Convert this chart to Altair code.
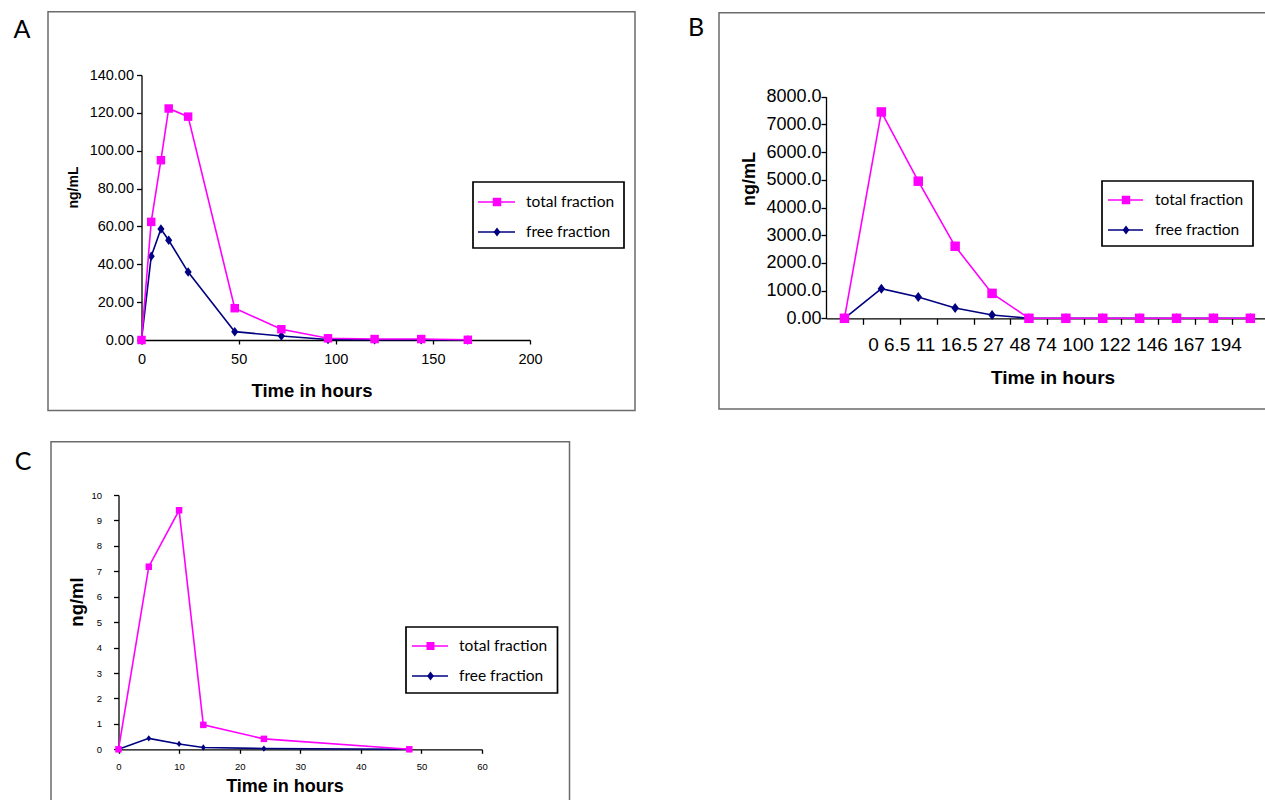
import altair as alt
import pandas as pd

MAGENTA = "#FF00FF"
NAVY = "#000080"
ARIAL = "Liberation Sans"
SANS = "Lato"
# diamond taller than wide, in the [-1, 1] box Vega uses for custom symbols
DIAMOND = "M0,-1L0.75,0L0,1L-0.75,0Z"

SERIES_NAMES = ["total fraction", "free fraction"]

# ---- A: concentration over time (ng/mL) ----
a_hours = [0, 5, 10, 14, 24, 48, 72, 96, 120, 144, 168]
a_total = [0.0, 62.4, 95.0, 122.3, 118.0, 16.8, 5.7, 0.9, 0.5, 0.5, 0.1]
a_free = [0.0, 44.2, 58.6, 52.7, 35.9, 4.4, 2.1, 0.3, 0.1, 0.1, 0.0]

# ---- B: concentration at sampling times (ng/mL) ----
b_hours = ["0", "6.5", "11", "16.5", "27", "48", "74", "100", "122", "146", "167", "194"]
b_total = [0, 7450, 4950, 2600, 900, 0, 0, 0, 0, 0, 0, 0]
b_free = [0, 1070, 770, 370, 120, 0, 0, 0, 0, 0, 0, 0]

# ---- C: concentration over time (ng/ml) ----
c_hours = [0, 5, 10, 14, 24, 48]
c_total = [0.0, 7.18, 9.4, 0.96, 0.41, 0.0]
c_free = [0.0, 0.43, 0.21, 0.07, 0.03, 0.0]

ONE = alt.Data(values=[{}])
W, H = 1265, 800


def long_frame(x, total, free):
    return pd.DataFrame({
        "t": list(x) * 2,
        "v": list(total) + list(free),
        "series": [SERIES_NAMES[0]] * len(total) + [SERIES_NAMES[1]] * len(free),
    })


def text(s, x, y, size, font=ARIAL, weight="normal", angle=0, align="center"):
    return alt.Chart(ONE).mark_text(
        text=s, fontSize=size, font=font, fontWeight=weight, angle=angle,
        align=align, baseline="middle", color="black",
    ).encode(x=alt.value(x), y=alt.value(y))


def box(x0, y0, x1, y1, color, width):
    return alt.Chart(ONE).mark_rect(fillOpacity=0, stroke=color, strokeWidth=width).encode(
        x=alt.value(x0), x2=alt.value(x1), y=alt.value(y0), y2=alt.value(y1)
    )


def series(df, x, y, sq_size, dia_size, line_w):
    layers = []
    styles = {
        SERIES_NAMES[1]: (NAVY, DIAMOND, dia_size),
        SERIES_NAMES[0]: (MAGENTA, "square", sq_size),
    }
    for name in [SERIES_NAMES[1], SERIES_NAMES[0]]:
        color, shape, size = styles[name]
        base = alt.Chart(df).transform_filter(alt.datum.series == name).encode(x=x, y=y)
        layers.append(base.mark_line(color=color, strokeWidth=line_w))
        layers.append(base.mark_point(shape=shape, size=size, filled=True, color=color, opacity=1))
    return layers


def legend(x0, y0, x1, y1, rows_y, lx0, lx1, mx, tx, sq_size, dia_size, fs):
    parts = [box(x0, y0, x1, y1, "black", 1.7)]
    marks = [(MAGENTA, "square", sq_size), (NAVY, DIAMOND, dia_size)]
    for name, (color, shape, size), yy in zip(SERIES_NAMES, marks, rows_y):
        parts.append(alt.Chart(ONE).mark_rule(color=color, strokeWidth=1.6).encode(
            x=alt.value(lx0), x2=alt.value(lx1), y=alt.value(yy)))
        parts.append(alt.Chart(ONE).mark_point(shape=shape, size=size, filled=True, color=color, opacity=1).encode(
            x=alt.value(mx), y=alt.value(yy)))
        parts.append(text(name, tx, yy, fs, font=SANS, align="left"))
    return parts


def axis(orient, offset, values, size, pad, tick, **kw):
    return alt.Axis(
        orient=orient, offset=offset, values=values, title=None, grid=False,
        labelFont=ARIAL, labelFontSize=size, labelColor="black", labelPadding=pad,
        labelFlush=False, labelOverlap=False,
        domainColor="black", domainWidth=1.3, tickColor="black", tickSize=tick, tickWidth=1.3,
        **kw,
    )


# ---------- panel A ----------
a_x0, a_y0 = 141.5, 340
ax = alt.X("t:Q", scale=alt.Scale(domain=[0, 200], range=[a_x0, 530], nice=False, zero=False),
           axis=axis("bottom", a_y0 - H, [0, 50, 100, 150, 200], 14.5, 8, 4, format="d"))
ay = alt.Y("v:Q", scale=alt.Scale(domain=[0, 140], range=[a_y0, 75], nice=False),
           axis=axis("left", -a_x0, list(range(0, 141, 20)), 14.5, 3, 5, format=".2f"))
panel_a = alt.layer(
    box(48, 11.7, 635, 410.5, "#6b6b6b", 1.5),
    text("A", 22, 29.5, 25, font=SANS),
    *series(long_frame(a_hours, a_total, a_free), ax, ay, 72, 90, 1.6),
    text("Time in hours", 312, 391, 18.5, weight="bold"),
    text("ng/mL", 73.5, 187.5, 14, weight="bold", angle=270),
    *legend(473, 182, 624, 248, [202, 232], 478, 515, 497, 526, 72, 81, 15.5),
)

# ---------- panel B ----------
b_x0, b_y0 = 826, 318.3
b_step = 36.9
b_df = long_frame(range(len(b_hours)), b_total, b_free)
bx = alt.X("t:Q", scale=alt.Scale(domain=[-0.5, len(b_hours) - 0.5],
                                  range=[b_x0, b_x0 + b_step * len(b_hours)], nice=False, zero=False),
           axis=axis("bottom", b_y0 - H, [i + 0.5 for i in range(len(b_hours) - 1)], 18, 4, 6, labels=False))
by = alt.Y("v:Q", scale=alt.Scale(domain=[0, 8000], range=[b_y0, 96.7], nice=False),
           axis=axis("left", -b_x0, list(range(0, 8001, 1000)), 18, 0, 5,
                     labelExpr="datum.value == 0 ? '0.00' : format(datum.value, '.1f')"))
panel_b = alt.layer(
    box(719, 12.7, 1290, 409, "#6b6b6b", 1.5),
    text("B", 696, 28, 25, font=SANS),
    *series(b_df, bx, by, 90, 100, 1.6),
    text(" ".join(b_hours), 1055, 345, 19),
    text("Time in hours", 1053, 377.5, 19, weight="bold"),
    text("ng/mL", 750, 179, 18, weight="bold", angle=270),
    *legend(1102, 181, 1253, 246, [200, 230], 1108, 1143, 1126, 1155, 72, 81, 15.5),
)

# ---------- panel C ----------
c_x0, c_y0 = 118.5, 749.3
cx = alt.X("t:Q", scale=alt.Scale(domain=[0, 60], range=[c_x0, 482], nice=False, zero=False),
           axis=axis("bottom", c_y0 - H, list(range(0, 61, 10)), 9.5, 8, 4, format="d"))
cy = alt.Y("v:Q", scale=alt.Scale(domain=[0, 10], range=[c_y0, 495], nice=False),
           axis=axis("left", -c_x0, list(range(0, 11)), 9.5, 12, 5, format="d"))
panel_c = alt.layer(
    box(51, 441.7, 569.5, 820, "#6b6b6b", 1.5),
    text("C", 23, 462, 25, font=SANS),
    *series(long_frame(c_hours, c_total, c_free), cx, cy, 42, 40, 1.6),
    text("Time in hours", 285, 787, 18, weight="bold"),
    text("ng/ml", 76.5, 602, 18.5, weight="bold", angle=270),
    *legend(406, 627, 557.5, 693, [646, 676], 412, 448, 430.5, 459, 64, 81, 15.5),
)

chart = (
    alt.layer(panel_a, panel_b, panel_c)
    .resolve_scale(x="independent", y="independent")
    .properties(width=W, height=H, padding=0, autosize=alt.AutoSizeParams(type="none"),
                background="white")
    .configure_view(stroke=None)
)

chart.save("out.html", embed_options={"renderer": "svg", "actions": False})
